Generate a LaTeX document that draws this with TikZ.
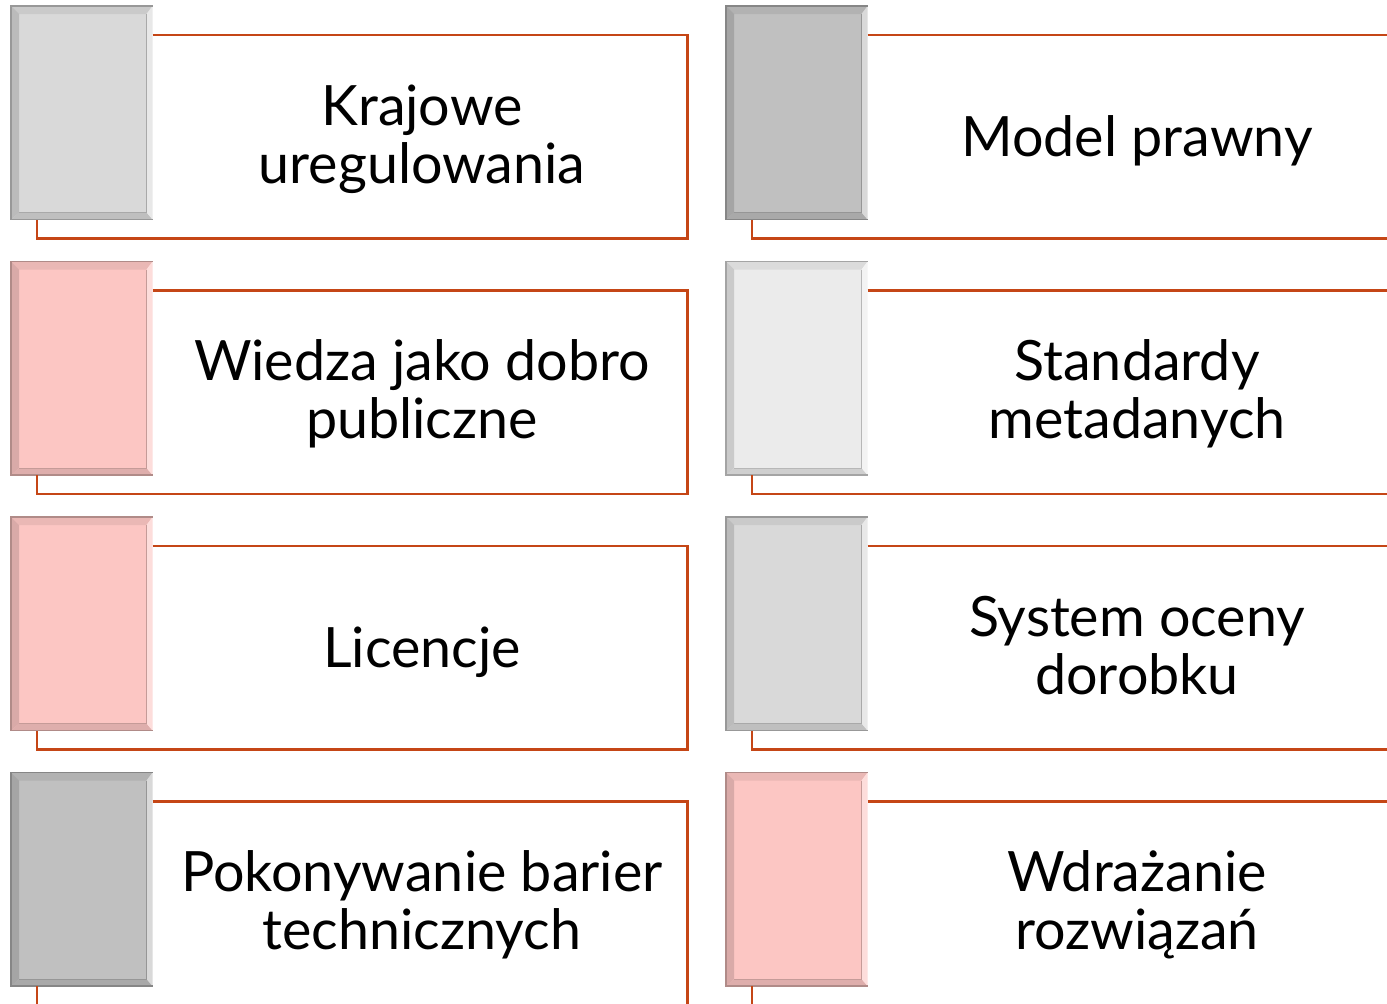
\documentclass[tikz,border=0pt]{standalone}
\usepackage{fontspec}
\setmainfont{Lato}
\usetikzlibrary{calc}
\definecolor{framecol}{RGB}{197,70,22}
\definecolor{tgray}{HTML}{D9D9D9}
\definecolor{tdark}{HTML}{C0C0C0}
\definecolor{tlight}{HTML}{EBEBEB}
\definecolor{tpink}{HTML}{FCC6C3}
\tikzset{
  tile/.style={rectangle, anchor=north west, inner sep=0pt, minimum width=105.75pt, minimum height=159.75pt, fill=#1},
  framepath/.style={draw=framecol, line width=2.1pt},
  lbl/.style={font=\fontsize{41.7}{43.5}\selectfont, align=center, anchor=base, inner sep=0pt},
}
\newcommand{\bevtile}[4]{%
  \node[tile=#4] (#1) at (#2,#3) {};
  \fill[#4!93!black] (#1.north west) -- (#1.north east) -- ($(#1.north east)+(-6,8)$) -- ($(#1.north west)+(8,8)$) -- cycle;
  \fill[#4!86!black] (#1.north west) -- ($(#1.north west)+(8,8)$) -- ($(#1.south west)+(8,-7)$) -- (#1.south west) -- cycle;
  \fill[#4!88!black] (#1.south west) -- ($(#1.south west)+(8,-7)$) -- ($(#1.south east)+(-6,-7)$) -- (#1.south east) -- cycle;
  \fill[#4!60!white] (#1.north east) -- (#1.south east) -- ($(#1.south east)+(-6,-7)$) -- ($(#1.north east)+(-6,8)$) -- cycle;
  \draw[#4!78!black, line width=0.8pt] ($(#1.north east)+(-6,8)$) -- ($(#1.south east)+(-6,-7)$) -- ($(#1.south west)+(8,-7)$);
  \draw[#4!70!black, line width=0.9pt] (#1.north east) -- (#1.north west) -- (#1.south west) -- (#1.south east);
  \draw[framepath] ($(#1.north east)+(0,29)$) -- ++(535,0) |- ($(#1.south west)+(26,19)$) -- ($(#1.south west)+(26,0)$);
}
\begin{document}
\begin{tikzpicture}[x=0.75pt,y=-0.75pt]
\useasboundingbox[fill=white] (0,0) rectangle (1387,1003);
% left column
\bevtile{a1}{11}{6}{tgray}
\node[lbl] (ta1) at ($(a1.north east)+(269.5,177)$) {Krajowe\\uregulowania};
\bevtile{a2}{11}{261.5}{tpink}
\node[lbl] (ta2) at ($(a2.north east)+(269.5,177)$) {Wiedza jako dobro\\publiczne};
\bevtile{a3}{11}{517}{tpink}
\node[lbl] (ta3) at ($(a3.north east)+(269.5,150)$) {Licencje};
\bevtile{a4}{11}{772.5}{tdark}
\node[lbl] (ta4) at ($(a4.north east)+(269.5,177)$) {Pokonywanie barier\\technicznych};
% right column
\bevtile{b1}{726}{6}{tdark}
\node[lbl] (tb1) at ($(b1.north east)+(269.5,150)$) {Model prawny};
\bevtile{b2}{726}{261.5}{tlight}
\node[lbl] (tb2) at ($(b2.north east)+(269.5,177)$) {Standardy\\metadanych};
\bevtile{b3}{726}{517}{tgray}
\node[lbl] (tb3) at ($(b3.north east)+(269.5,177)$) {System oceny\\dorobku};
\bevtile{b4}{726}{772.5}{tpink}
\node[lbl] (tb4) at ($(b4.north east)+(269.5,177)$) {Wdrażanie\\rozwiązań};
\end{tikzpicture}
\end{document}
